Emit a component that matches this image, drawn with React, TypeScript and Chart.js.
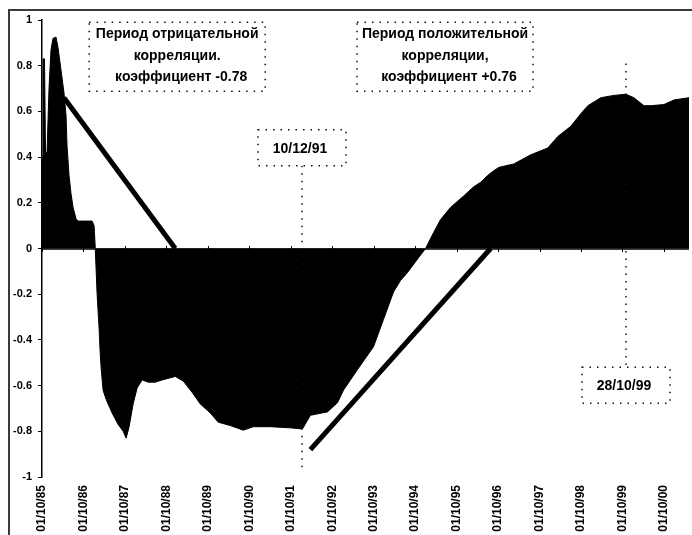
import React, { useEffect, useRef } from 'react';
import { Chart, registerables } from 'chart.js';

Chart.register(...registerables);

// x axis: years elapsed since 01/10/85 (one tick per year)
const xTickLabels = [
  '01/10/85', '01/10/86', '01/10/87', '01/10/88', '01/10/89', '01/10/90', '01/10/91', '01/10/92',
  '01/10/93', '01/10/94', '01/10/95', '01/10/96', '01/10/97', '01/10/98', '01/10/99', '01/10/00',
];
const yTickValues = [1, 0.8, 0.6, 0.4, 0.2, 0, -0.2, -0.4, -0.6, -0.8, -1];

const yearsSinceStart = [
  0, 0.024, 0.06, 0.085, 0.121, 0.169, 0.217, 0.266, 0.338, 0.386, 0.459, 0.531, 0.58, 0.604, 0.652,
  0.7, 0.749, 0.821, 0.87, 1.063, 1.208, 1.256, 1.28, 1.329, 1.377, 1.401, 1.425, 1.473, 1.546, 1.691,
  1.836, 1.957, 2.029, 2.101, 2.198, 2.295, 2.415, 2.56, 2.729, 2.899, 3.092, 3.213, 3.406, 3.623,
  3.816, 4.058, 4.251, 4.541, 4.855, 5.097, 5.507, 5.99, 6.28, 6.377, 6.473, 6.884, 7.126, 7.271,
  7.44, 7.609, 7.802, 7.995, 8.237, 8.478, 8.647, 8.816, 9.082, 9.251, 9.444, 9.614, 9.855, 10.169,
  10.411, 10.58, 10.749, 10.894, 11.014, 11.377, 11.787, 12.198, 12.44, 12.754, 12.995, 13.164,
  13.478, 13.792, 14.082, 14.275, 14.517, 14.686, 15.0, 15.242, 15.604,
];
const correlation = [
  0.4, 0.83, 0.83, 0.42, 0.42, 0.7, 0.87, 0.92, 0.925, 0.88, 0.78, 0.68, 0.58, 0.45, 0.32,
  0.24, 0.18, 0.13, 0.12, 0.12, 0.12, 0.1, 0.02, -0.2, -0.35, -0.45, -0.52, -0.62, -0.66, -0.72,
  -0.77, -0.8, -0.83, -0.78, -0.68, -0.61, -0.575, -0.585, -0.585, -0.575, -0.566, -0.56, -0.58, -0.63,
  -0.68, -0.72, -0.76, -0.775, -0.795, -0.78, -0.78, -0.785, -0.79, -0.76, -0.73, -0.715, -0.675, -0.62,
  -0.575, -0.53, -0.48, -0.43, -0.31, -0.19, -0.14, -0.105, -0.04, 0, 0.07, 0.127, 0.18, 0.23,
  0.27, 0.29, 0.32, 0.34, 0.355, 0.37, 0.41, 0.44, 0.49, 0.535, 0.59, 0.625,
  0.66, 0.67, 0.675, 0.66, 0.625, 0.625, 0.63, 0.65, 0.66,
];

// trend lines
const negTrendYears = [0.53, 3.213];
const negTrendValues = [0.66, 0];
const posTrendYears = [6.473, 10.82];
const posTrendValues = [-0.88, 0];

// annotations
const noteTexts = [
  ['Период отрицательной', 'корреляции.', 'коэффициент -0.78'],
  ['Период положительной', 'корреляции,', 'коэффициент +0.76'],
];
const noteCenterYears = [3.26, 9.72];
const markerLabels = ['10/12/91', '28/10/99'];
const markerYears = [6.28, 14.08];

const FONT = '"Liberation Sans", Arial, sans-serif';

function dottedRect(ctx: CanvasRenderingContext2D, l: number, t: number, w: number, h: number) {
  ctx.save();
  ctx.fillStyle = '#fff';
  ctx.fillRect(l, t, w, h);
  ctx.setLineDash([1.5, 6]);
  ctx.lineWidth = 1.5;
  ctx.strokeStyle = '#111';
  ctx.strokeRect(l, t, w, h);
  ctx.restore();
}

function dottedV(ctx: CanvasRenderingContext2D, x: number, y1: number, y2: number) {
  ctx.save();
  ctx.setLineDash([1.5, 6]);
  ctx.lineWidth = 1.5;
  ctx.strokeStyle = '#111';
  ctx.beginPath();
  ctx.moveTo(x, y1);
  ctx.lineTo(x, y2);
  ctx.stroke();
  ctx.restore();
}

const decorPlugin = {
  id: 'decor',
  afterDraw(chart: any) {
    const ctx: CanvasRenderingContext2D = chart.ctx;
    const xs = chart.scales.x;
    const ys = chart.scales.y;
    ctx.save();
    // outer frame
    ctx.strokeStyle = '#3a3a3a';
    ctx.lineWidth = 2;
    ctx.beginPath();
    ctx.moveTo(9, chart.height);
    ctx.lineTo(9, 10);
    ctx.lineTo(chart.width, 10);
    ctx.stroke();

    // zero axis with year ticks
    const y0 = Math.round(ys.getPixelForValue(0));
    ctx.strokeStyle = '#000';
    ctx.lineWidth = 1.5;
    ctx.beginPath();
    ctx.moveTo(xs.left, y0);
    ctx.lineTo(xs.right, y0);
    ctx.stroke();
    ctx.lineWidth = 1;
    ctx.beginPath();
    xTickLabels.forEach((_, i) => {
      const px = Math.round(xs.getPixelForValue(i)) + 0.5;
      ctx.moveTo(px, y0 - 3);
      ctx.lineTo(px, y0 + 3);
    });
    ctx.stroke();

    // note boxes
    noteTexts.forEach((lines, i) => {
      const cx = xs.getPixelForValue(noteCenterYears[i]);
      const top = ys.getPixelForValue(0.99);
      const w = 176;
      dottedRect(ctx, cx - w / 2, top, w, 69);
      ctx.fillStyle = '#000';
      ctx.font = `bold 14px ${FONT}`;
      ctx.textAlign = 'center';
      ctx.textBaseline = 'middle';
      lines.forEach((ln, j) => ctx.fillText(ln, cx + (j === 2 ? 4 : 0), top + 12 + j * 21.5));
    });

    // date markers
    const markerBoxTop = [0.52, -0.52];
    markerLabels.forEach((lab, i) => {
      const cx = Math.round(xs.getPixelForValue(markerYears[i]));
      const top = ys.getPixelForValue(markerBoxTop[i]);
      const w = 88;
      const h = 36;
      if (i === 0) dottedV(ctx, cx, top + h, ys.getPixelForValue(-0.97));
      else dottedV(ctx, cx, ys.getPixelForValue(0.81), top);
      dottedRect(ctx, cx - w / 2, top, w, h);
      ctx.fillStyle = '#000';
      ctx.font = `bold 14px ${FONT}`;
      ctx.textAlign = 'center';
      ctx.textBaseline = 'middle';
      ctx.fillText(lab, cx - 2, top + h / 2 + 1);
    });
    ctx.restore();
  },
};

export default function App() {
  const ref = useRef<HTMLCanvasElement>(null);
  useEffect(() => {
    document.body.style.margin = '0';
    document.body.style.overflow = 'hidden';
    const canvas = ref.current!;
    const area = yearsSinceStart.map((t, i) => ({ x: t, y: correlation[i] }));
    const neg = negTrendYears.map((t, i) => ({ x: t, y: negTrendValues[i] }));
    const pos = posTrendYears.map((t, i) => ({ x: t, y: posTrendValues[i] }));
    const chart = new Chart(canvas, {
      type: 'line',
      data: {
        datasets: [
          {
            data: area,
            fill: 'origin',
            backgroundColor: '#000',
            borderColor: '#000',
            borderWidth: 1,
            pointRadius: 0,
            tension: 0,
          },
          {
            data: neg,
            fill: false,
            borderColor: '#000',
            borderWidth: 5,
            borderCapStyle: 'butt',
            pointRadius: 0,
          },
          {
            data: pos,
            fill: false,
            borderColor: '#000',
            borderWidth: 5,
            borderCapStyle: 'butt',
            pointRadius: 0,
          },
        ],
      },
      options: {
        responsive: false,
        animation: false,
        layout: { padding: { top: 20, right: 3, left: 0, bottom: 0 } },
        plugins: { legend: { display: false }, tooltip: { enabled: false } },
        scales: {
          x: {
            type: 'linear',
            min: 0,
            max: yearsSinceStart[yearsSinceStart.length - 1],
            afterBuildTicks: (s: any) => {
              s.ticks = xTickLabels.map((_, i) => ({ value: i }));
            },
            afterFit: (s: any) => {
              s.height = 58;
            },
            grid: { display: false },
            border: { display: false },
            ticks: {
              autoSkip: false,
              minRotation: 90,
              maxRotation: 90,
              padding: 0,
              color: '#000',
              font: { family: FONT, size: 12, weight: 'bold' },
              callback: (v: any) => xTickLabels[Math.round(v)] ?? '',
            },
          },
          y: {
            min: -1,
            max: 1,
            afterBuildTicks: (s: any) => {
              s.ticks = yTickValues.map((v) => ({ value: v }));
            },
            afterFit: (s: any) => {
              s.width = 42;
            },
            grid: { drawOnChartArea: false, tickLength: 4, color: '#000', lineWidth: 1 },
            border: { display: true, color: '#000', width: 1.5 },
            ticks: {
              padding: 6,
              color: '#000',
              font: { family: FONT, size: 11, weight: 'bold' },
              callback: (v: any) => String(Number(Number(v).toFixed(1))),
            },
          },
        },
      },
      plugins: [decorPlugin],
    } as any);
    return () => chart.destroy();
  }, []);
  return <canvas ref={ref} width={692} height={535} style={{ display: 'block' }} />;
}
